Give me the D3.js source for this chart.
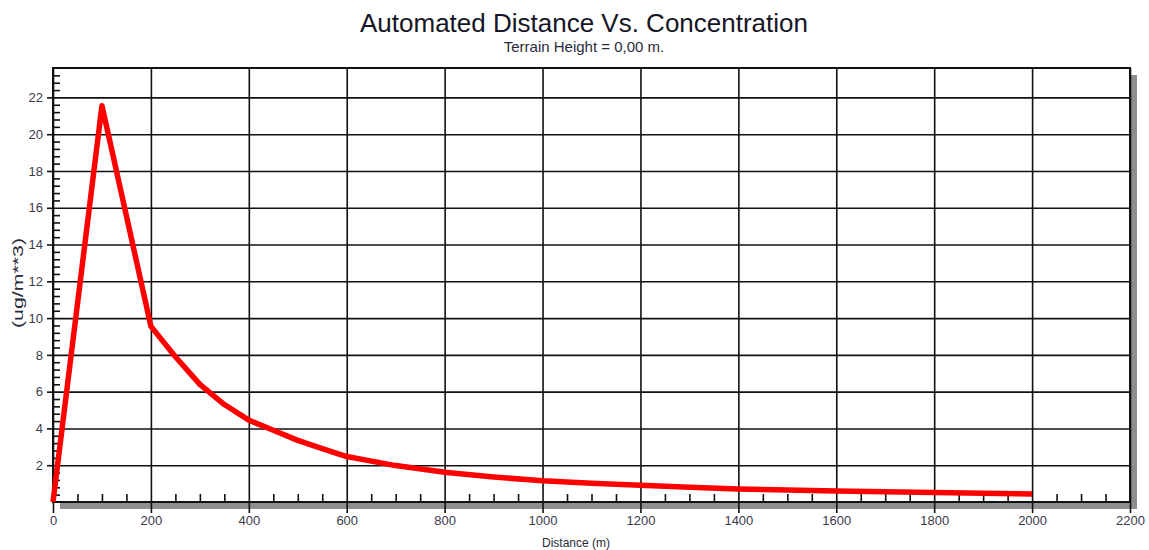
<!DOCTYPE html>
<html>
<head>
<meta charset="utf-8">
<script src="https://cdn.jsdelivr.net/npm/d3@7"></script>
<style>
  html, body { margin: 0; padding: 0; background: #ffffff; }
  svg { display: block; font-family: "Liberation Sans", Arial, sans-serif; }
</style>
</head>
<body>
<svg id="chart" width="1149" height="550"></svg>
<script>
// ---- data ----
const distances = [0, 100, 200, 250, 300, 350, 400, 450, 500, 550, 600, 700, 800, 900, 1000, 1100, 1200, 1300, 1400, 1500, 1600, 1700, 1800, 1900, 2000];
const concentrations = [0, 21.55, 9.55, 7.9, 6.4, 5.3, 4.45, 3.9, 3.35, 2.9, 2.47, 1.98, 1.62, 1.36, 1.15, 1.02, 0.91, 0.8, 0.71, 0.65, 0.6, 0.56, 0.52, 0.48, 0.44];
const xTickValues = [0, 200, 400, 600, 800, 1000, 1200, 1400, 1600, 1800, 2000, 2200];
const yTickValues = [2, 4, 6, 8, 10, 12, 14, 16, 18, 20, 22];
const xMinorValues = d3.range(50, 2200, 50).filter(v => v % 200 !== 0);
const yMinorValues = d3.range(1, 59).map(i => +(i * 0.4).toFixed(1)).filter(v => Math.abs(v / 2 - Math.round(v / 2)) > 1e-6 && v < 23.6);
const titleText = "Automated Distance Vs. Concentration";
const subtitleText = "Terrain Height = 0,00 m.";
const xLabel = "Distance (m)";
const yLabel = "(ug/m**3)";

// ---- layout ----
const pLeft = 53, pRight = 1130, pTop = 68, pBottom = 502;
const svg = d3.select("#chart");
const x = d3.scaleLinear().domain([0, 2200]).range([pLeft, pRight]);
const y = d3.scaleLinear().domain([0, 23.6]).range([pBottom, pTop]);

// shadow
svg.append("rect").attr("x", pRight + 1).attr("y", pTop + 7).attr("width", 6).attr("height", pBottom - pTop).attr("fill", "#8e8e8e");
svg.append("rect").attr("x", pLeft + 7).attr("y", pBottom + 1).attr("width", pRight - pLeft).attr("height", 6).attr("fill", "#8e8e8e");
svg.append("rect").attr("x", pLeft).attr("y", pTop).attr("width", pRight - pLeft).attr("height", pBottom - pTop).attr("fill", "#fff");

// grid
const gridX = svg.append("g").attr("transform", `translate(0,${pBottom})`)
  .call(d3.axisBottom(x).tickValues(xTickValues).tickSize(-(pBottom - pTop)).tickFormat(""));
const gridY = svg.append("g").attr("transform", `translate(${pLeft},0)`)
  .call(d3.axisLeft(y).tickValues(yTickValues).tickSize(-(pRight - pLeft)).tickFormat(""));
[gridX, gridY].forEach(g => {
  g.select(".domain").remove();
  g.selectAll("line").attr("stroke", "#111").attr("stroke-width", 1.6);
});

// minor ticks (inside)
const minX = svg.append("g").attr("transform", `translate(0,${pBottom})`)
  .call(d3.axisTop(x).tickValues(xMinorValues).tickSize(8).tickFormat(""));
const minY = svg.append("g").attr("transform", `translate(${pLeft},0)`)
  .call(d3.axisRight(y).tickValues(yMinorValues).tickSize(7).tickFormat(""));
[minX, minY].forEach(g => {
  g.select(".domain").remove();
  g.selectAll("line").attr("stroke", "#111").attr("stroke-width", 1.6);
});

// major axes with labels
const axX = svg.append("g").attr("transform", `translate(0,${pBottom})`)
  .call(d3.axisBottom(x).tickValues(xTickValues).tickFormat(d3.format("d")).tickSizeInner(11).tickSizeOuter(0).tickPadding(3));
const axY = svg.append("g").attr("transform", `translate(${pLeft},0)`)
  .call(d3.axisLeft(y).tickValues(yTickValues).tickFormat(d3.format("d")).tickSizeInner(6).tickSizeOuter(0).tickPadding(4));
[axX, axY].forEach(g => {
  g.select(".domain").remove();
  g.selectAll("line").attr("stroke", "#111").attr("stroke-width", 1.6);
  g.selectAll("text").attr("fill", "#3a3a4a").style("font-size", "13px")
    .style("font-family", "'Liberation Sans', Arial, sans-serif");
});

// frame
svg.append("rect").attr("x", pLeft).attr("y", pTop).attr("width", pRight - pLeft).attr("height", pBottom - pTop)
  .attr("fill", "none").attr("stroke", "#111").attr("stroke-width", 2);

// data line
const line = d3.line().x((d, i) => x(distances[i])).y(d => y(d));
svg.append("path").datum(concentrations).attr("d", line)
  .attr("fill", "none").attr("stroke", "#ff0000").attr("stroke-width", 5.5)
  .attr("stroke-linejoin", "round").attr("stroke-linecap", "butt");

// texts
svg.append("text").attr("x", 584).attr("y", 32).attr("text-anchor", "middle")
  .style("font-size", "26px").attr("fill", "#151525").text(titleText);
svg.append("text").attr("x", 584).attr("y", 52).attr("text-anchor", "middle")
  .style("font-size", "15px").attr("fill", "#2a2a3a").text(subtitleText);
svg.append("text").attr("x", 576).attr("y", 547).attr("text-anchor", "middle")
  .style("font-size", "12px").attr("fill", "#2a2a3a").text(xLabel);
svg.append("text").attr("transform", "translate(23,283) rotate(-90)").attr("text-anchor", "middle")
  .style("font-size", "15px").attr("fill", "#2a2a3a")
  .attr("textLength", 90).attr("lengthAdjust", "spacingAndGlyphs").text(yLabel);
</script>
</body>
</html>
